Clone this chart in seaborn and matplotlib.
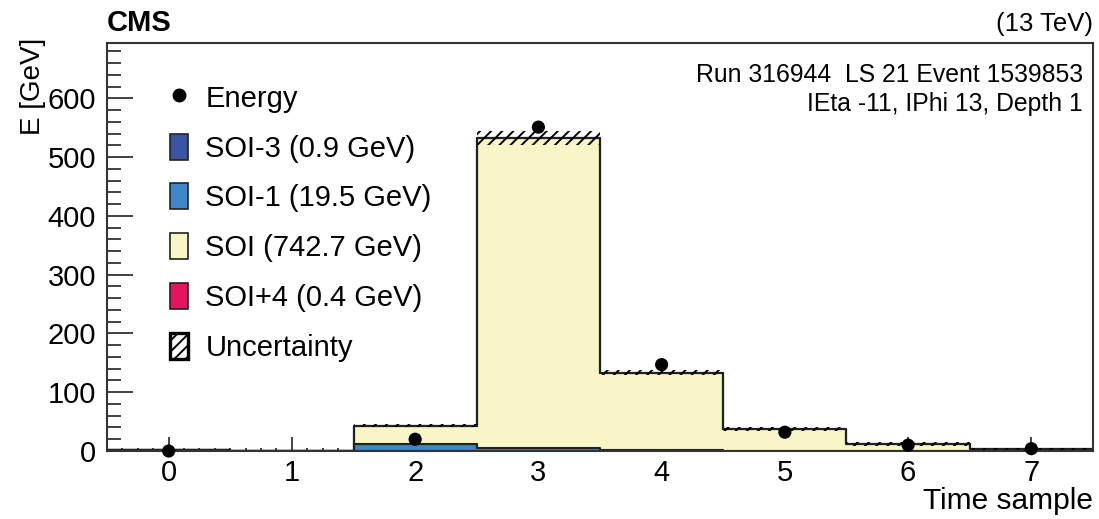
import numpy as np
import pandas as pd
import matplotlib
matplotlib.use("Agg")
import matplotlib.pyplot as plt
from matplotlib.patches import Patch
from matplotlib.lines import Line2D
from matplotlib.ticker import MultipleLocator
import seaborn as sns

# Time samples (bins) and per-pulse energy contributions in GeV
time_samples = [0, 1, 2, 3, 4, 5, 6, 7]
soi_m3 = [0.9, 0.0, 0.0, 0.0, 0.0, 0.0, 0.0, 0.0]
soi_m1 = [0.0, 0.0, 12.0, 5.0, 1.5, 0.6, 0.3, 0.1]
soi = [0.0, 0.0, 31.0, 528.0, 132.0, 37.0, 11.5, 3.2]
soi_p4 = [0.0, 0.0, 0.0, 0.0, 0.0, 0.0, 0.0, 0.4]
uncertainty = [0.3, 0.0, 2.5, 12.0, 5.0, 3.0, 3.0, 1.5]
energy = [0.0, np.nan, 20.0, 551.0, 147.0, 32.0, 10.0, 4.0]

components = ["SOI+4", "SOI", "SOI-1", "SOI-3"]
labels = {
    "SOI-3": "SOI-3 (0.9 GeV)",
    "SOI-1": "SOI-1 (19.5 GeV)",
    "SOI": "SOI (742.7 GeV)",
    "SOI+4": "SOI+4 (0.4 GeV)",
}
colors = {"SOI-3": "#3b55a5", "SOI-1": "#3f87cb", "SOI": "#f8f6c6", "SOI+4": "#e8125e"}

df = pd.DataFrame({
    "sample": time_samples * 4,
    "component": ["SOI-3"] * 8 + ["SOI-1"] * 8 + ["SOI"] * 8 + ["SOI+4"] * 8,
    "energy": soi_m3 + soi_m1 + soi + soi_p4,
})

sns.set_style("ticks")
plt.rcParams["font.family"] = ["Liberation Sans", "DejaVu Sans"]
plt.rcParams["hatch.linewidth"] = 1.4
for key in ["text.color", "axes.labelcolor", "xtick.labelcolor", "ytick.labelcolor"]:
    plt.rcParams[key] = "black"

fig = plt.figure(figsize=(10.99, 5.19), dpi=100)
ax = fig.add_axes([0.0974, 0.131, 0.8971, 0.786])

sns.histplot(
    data=df, x="sample", weights="energy", hue="component",
    hue_order=components, palette=colors, multiple="stack",
    discrete=True, element="step", fill=True, alpha=1.0,
    edgecolor="#222222", linewidth=1.5, legend=False, ax=ax,
)

# Uncertainty band around the stacked total
edges = np.arange(-0.5, 8.5, 1.0)
total = np.array(soi_m3) + np.array(soi_m1) + np.array(soi) + np.array(soi_p4)
unc = np.array(uncertainty)
lo = np.append(total - unc, (total - unc)[-1])
hi = np.append(total + unc, (total + unc)[-1])
ax.fill_between(edges, lo, hi, step="post", facecolor="none",
                edgecolor="black", hatch="///", linewidth=0)

# Measured energy per time sample
pts = pd.DataFrame({"sample": time_samples, "energy": energy}).dropna()
sns.scatterplot(data=pts, x="sample", y="energy", color="black", s=90,
                edgecolor="none", zorder=5, clip_on=False, ax=ax)

ax.set_xlim(-0.5, 7.5)
ax.set_ylim(0, 694)
ax.xaxis.set_major_locator(MultipleLocator(1))
ax.xaxis.set_minor_locator(MultipleLocator(0.125))
ax.yaxis.set_major_locator(MultipleLocator(100))
ax.yaxis.set_minor_locator(MultipleLocator(20))
ax.tick_params(axis="both", which="both", direction="in", top=False, right=False,
               color="#333333", width=1.3)
ax.tick_params(axis="y", which="major", length=19, labelsize=21, pad=8)
ax.tick_params(axis="y", which="minor", length=10)
ax.tick_params(axis="x", which="major", length=10, labelsize=21, pad=6)
ax.tick_params(axis="x", which="minor", length=2)
for s in ax.spines.values():
    s.set_linewidth(1.5)
    s.set_color("#333333")

ax.set_xlabel("Time sample", fontsize=21.5, loc="right", labelpad=0)
ax.set_ylabel("E [GeV]", fontsize=20, loc="top")
ax.yaxis.set_label_coords(-0.062, 1.012)

fig.text(0.0974, 1 - 31 / 519, "CMS", fontsize=21, fontweight="bold", ha="left", va="baseline")
fig.text(0.9945, 1 - 31 / 519, "(13 TeV)", fontsize=18.5, ha="right", va="baseline")
ax.text(0.99, 0.905, "Run 316944  LS 21 Event 1539853", transform=ax.transAxes,
        fontsize=17.8, ha="right", va="baseline")
ax.text(0.99, 0.833, "IEta -11, IPhi 13, Depth 1", transform=ax.transAxes,
        fontsize=17.8, ha="right", va="baseline")

handles = [Line2D([], [], marker="o", color="black", linestyle="none", markersize=9)]
for c in ["SOI-3", "SOI-1", "SOI", "SOI+4"]:
    handles.append(Patch(facecolor=colors[c], edgecolor="#222222", linewidth=1.2))
handles.append(Patch(facecolor="white", edgecolor="black", hatch="///", linewidth=2.4))
leg_labels = ["Energy"] + [labels[c] for c in ["SOI-3", "SOI-1", "SOI", "SOI+4"]] + ["Uncertainty"]
ax.legend(handles, leg_labels, loc="upper left", bbox_to_anchor=(0.064, 0.9),
          frameon=False, fontsize=21, handlelength=0.62, handleheight=1.0,
          handletextpad=0.59, labelspacing=0.71, borderaxespad=0, borderpad=0)

fig.savefig("out.png", dpi=100)
